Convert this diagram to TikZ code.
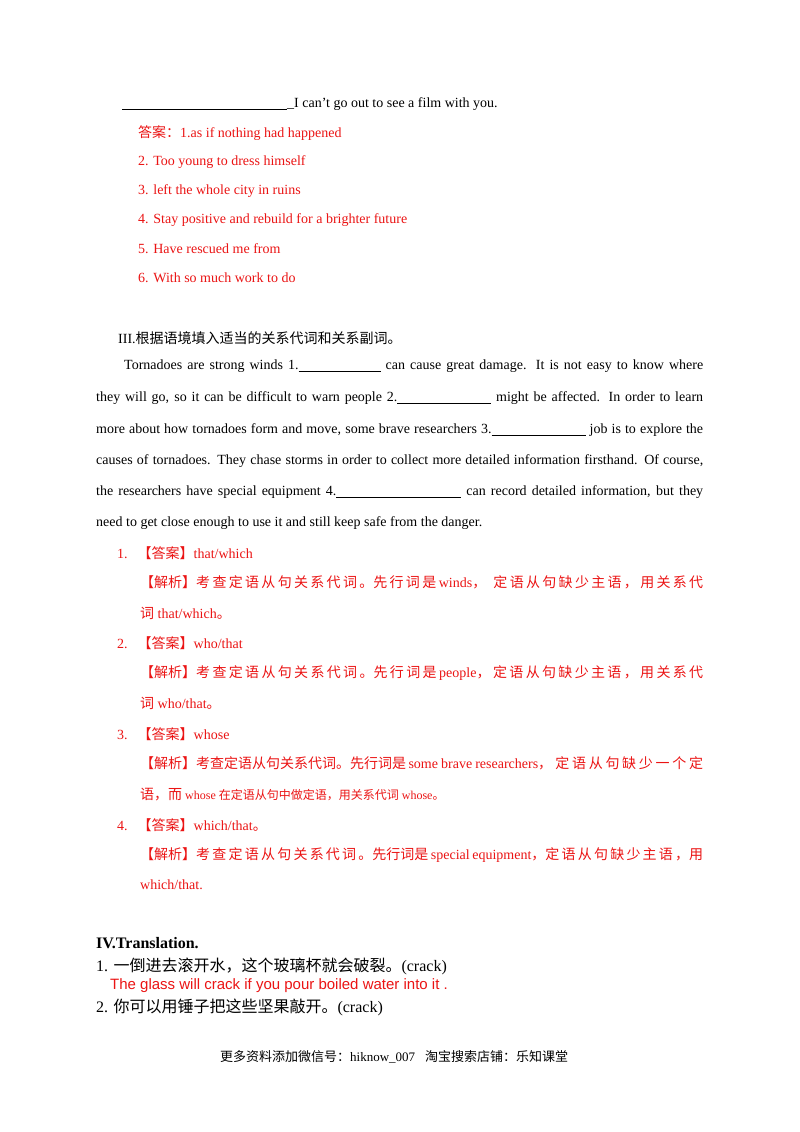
\documentclass[tikz,border=0pt]{standalone}
\usepackage{fontspec}
\setmainfont{Liberation Serif}
\setsansfont{Liberation Sans}
\newfontfamily\cjk{Noto Sans CJK SC}
\definecolor{ans}{RGB}{235,20,20}
\begin{document}
\begin{tikzpicture}[x=1pt,y=-1pt,
  txt/.style={anchor=west,inner sep=0pt,font=\fontsize{14}{16}\selectfont},
  red/.style={txt,text=ans}]
\useasboundingbox (0,0) rectangle (800,1132);
\fill[white] (0,0) rectangle (800,1132);
\node[txt] (l0) at (122,104) {\rule[-2pt]{165pt}{0.5pt}\_I can’t go out to see a film with you.};
\node[red] (a1) at (138,133) {{\cjk 答案：}1.as if nothing had happened};
\node[red] (a2) at (138,162) {2. Too young to dress himself};
\node[red] (a3) at (138,191) {3. left the whole city in ruins};
\node[red] (a4) at (138,220) {4. Stay positive and rebuild for a brighter future};
\node[red] (a5) at (138,249) {5. Have rescued me from};
\node[red] (a6) at (138,278) {6. With so much work to do};
\node[txt] (h3) at (118,338) {III.{\cjk 根据语境填入适当的关系代词和关系副词。}};
\node[txt] (p1) at (124,366) {\makebox[579pt][s]{Tornadoes are strong winds 1.\rule[-2pt]{82pt}{0.5pt} can cause great damage. It is not easy to know where}};
\node[txt] (p2) at (96,398) {\makebox[607pt][s]{they will go, so it can be difficult to warn people 2.\rule[-2pt]{94pt}{0.5pt} might be affected. In order to learn}};
\node[txt] (p3) at (96,430) {\makebox[607pt][s]{more about how tornadoes form and move, some brave researchers 3.\rule[-2pt]{94pt}{0.5pt} job is to explore the}};
\node[txt] (p4) at (96,461) {\makebox[607pt][s]{causes of tornadoes. They chase storms in order to collect more detailed information firsthand. Of course,}};
\node[txt] (p5) at (96,492) {\makebox[607pt][s]{the researchers have special equipment 4.\rule[-2pt]{125pt}{0.5pt} can record detailed information, but they}};
\node[txt] (p6) at (96,523) {need to get close enough to use it and still keep safe from the danger.};
\node[red] (n1) at (117,553) {1.\hspace{10pt}{\cjk 【答案】}that/which};
\node[red] (e1) at (140,582) {\makebox[563pt][s]{{\cjk 【解析】考 查 定 语 从 句 关 系 代 词 。先 行 词 是} winds{\cjk ，} \hspace{2pt} {\cjk 定 语 从 句 缺 少 主 语 ， 用 关 系 代}}};
\node[red] (e1b) at (140,613) {{\cjk 词} that/which{\cjk 。}};
\node[red] (n2) at (117,643) {2.\hspace{10pt}{\cjk 【答案】}who/that};
\node[red] (e2) at (140,673) {\makebox[563pt][s]{{\cjk 【解析】考 查 定 语 从 句 关 系 代 词 。先 行 词 是} people{\cjk ，} {\cjk 定 语 从 句 缺 少 主 语 ， 用 关 系 代}}};
\node[red] (e2b) at (140,703) {{\cjk 词} who/that{\cjk 。}};
\node[red] (n3) at (117,734) {3.\hspace{10pt}{\cjk 【答案】}whose};
\node[red] (e3) at (140,763) {\makebox[563pt][s]{{\cjk 【解析】考查定语从句关系代词。先行词是}\,some brave researchers{\cjk ，} {\cjk 定 语 从 句 缺 少 一 个 定}}};
\node[red] (e3b) at (140,795) {\fontsize{12}{14}\selectfont{\cjk\fontsize{14}{16}\selectfont 语，而} whose {\cjk 在定语从句中做定语，用关系代词} whose{\cjk 。}};
\node[red] (n4) at (117,825) {4.\hspace{10pt}{\cjk 【答案】}which/that{\cjk 。}};
\node[red] (e4) at (140,855) {\makebox[563pt][s]{{\cjk 【解析】考 查 定 语 从 句 关 系 代 词 。先行词是} special equipment{\cjk ，定 语 从 句 缺 少 主 语 ，用}}};
\node[red] (e4b) at (140,885) {which/that.};
\node[txt,font=\fontsize{16}{18}\selectfont\bfseries] (h4) at (96,943) {IV.Translation.};
\node[txt,font=\fontsize{16}{18}\selectfont] (t1) at (96,966) {1. {\cjk 一倒进去滚开水，这个玻璃杯就会破裂。}(crack)};
\node[txt,text=ans,font=\fontsize{15}{17}\sffamily] (t1a) at (110,986) {The glass will crack if you pour boiled water into it .};
\node[txt,font=\fontsize{16}{18}\selectfont] (t2) at (96,1007) {2. {\cjk 你可以用锤子把这些坚果敲开。}(crack)};
\node[txt,font=\fontsize{13}{15}\selectfont] (ft) at (220,1057) {{\cjk 更多资料添加微信号：}hiknow\_007\hspace{10pt}{\cjk 淘宝搜索店铺：乐知课堂}};
\end{tikzpicture}
\end{document}
